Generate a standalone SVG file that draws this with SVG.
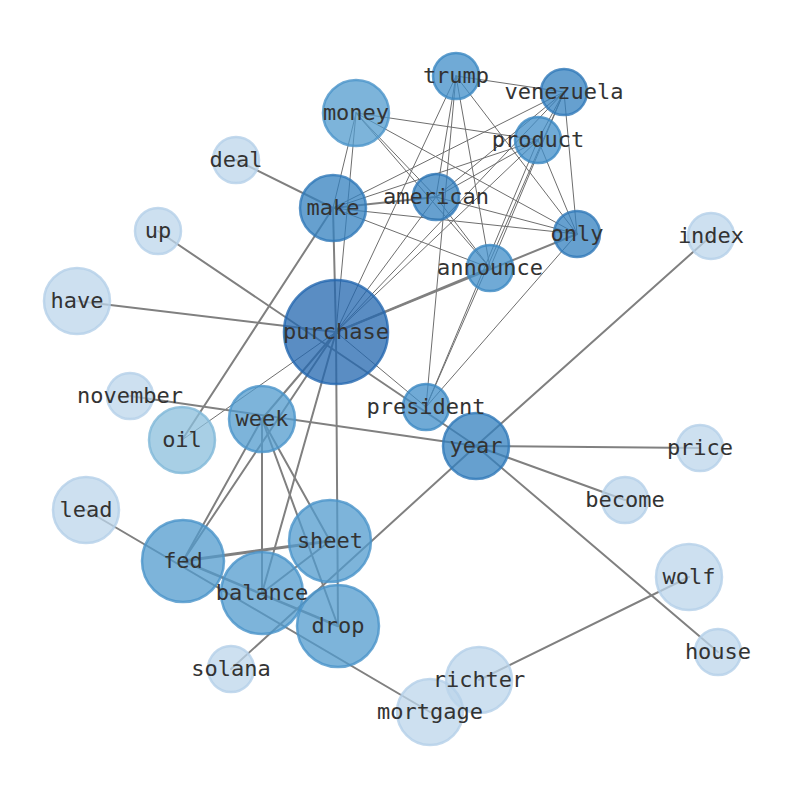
<svg xmlns="http://www.w3.org/2000/svg" width="794" height="790" viewBox="0 0 794 790">
<style>
.e{stroke:#808080;fill:none;stroke-linecap:round}
.t{stroke-width:1;stroke:#6e6e6e}
.k{stroke-width:2}
.n circle{fill-opacity:0.75;stroke-opacity:0.8;stroke-width:2.5}
.c1 circle{fill:#2367af;stroke:#2367af}
.c2 circle{fill:#3380bf;stroke:#2f78b8}
.c3 circle{fill:#408ec8;stroke:#3a87c2}
.c4 circle{fill:#529bce;stroke:#4a94c9}
.c5 circle{fill:#8bbfdc;stroke:#80b8d8}
.c6 circle{fill:#bcd5eb;stroke:#b4d0e8}
text{font-family:"DejaVu Sans Mono","Liberation Mono",monospace;font-size:22px;fill:#333;text-anchor:middle}
</style>
<rect width="794" height="790" fill="#fff"/>
<g id="edges">
<line class="e t" x1="456" y1="76" x2="564" y2="92"/>
<line class="e t" x1="456" y1="76" x2="336" y2="332"/>
<line class="e t" x1="456" y1="76" x2="436" y2="197"/>
<line class="e t" x1="456" y1="76" x2="426" y2="407"/>
<line class="e t" x1="456" y1="76" x2="490" y2="268"/>
<line class="e t" x1="456" y1="76" x2="577" y2="234"/>
<line class="e t" x1="564" y1="92" x2="538" y2="140"/>
<line class="e t" x1="564" y1="92" x2="577" y2="234"/>
<line class="e t" x1="564" y1="92" x2="333" y2="208"/>
<line class="e t" x1="564" y1="92" x2="336" y2="332"/>
<line class="e t" x1="564" y1="92" x2="436" y2="197"/>
<line class="e t" x1="564" y1="92" x2="426" y2="407"/>
<line class="e t" x1="564" y1="92" x2="490" y2="268"/>
<line class="e t" x1="538" y1="140" x2="356" y2="113"/>
<line class="e t" x1="538" y1="140" x2="333" y2="208"/>
<line class="e t" x1="538" y1="140" x2="336" y2="332"/>
<line class="e t" x1="538" y1="140" x2="436" y2="197"/>
<line class="e t" x1="538" y1="140" x2="577" y2="234"/>
<line class="e t" x1="538" y1="140" x2="426" y2="407"/>
<line class="e t" x1="356" y1="113" x2="333" y2="208"/>
<line class="e t" x1="356" y1="113" x2="336" y2="332"/>
<line class="e t" x1="356" y1="113" x2="577" y2="234"/>
<line class="e t" x1="356" y1="113" x2="436" y2="197"/>
<line class="e t" x1="356" y1="113" x2="490" y2="268"/>
<line class="e t" x1="333" y1="208" x2="577" y2="234"/>
<line class="e t" x1="333" y1="208" x2="490" y2="268"/>
<line class="e t" x1="436" y1="197" x2="577" y2="234"/>
<line class="e t" x1="436" y1="197" x2="490" y2="268"/>
<line class="e t" x1="436" y1="197" x2="336" y2="332"/>
<line class="e t" x1="577" y1="234" x2="426" y2="407"/>
<line class="e t" x1="336" y1="332" x2="426" y2="407"/>
<line class="e t" x1="336" y1="332" x2="182" y2="440"/>
<line class="e k" x1="236" y1="160" x2="333" y2="208"/>
<line class="e k" x1="333" y1="208" x2="436" y2="197"/>
<line class="e k" x1="333" y1="208" x2="182" y2="440"/>
<line class="e k" x1="333" y1="208" x2="336" y2="332"/>
<line class="e k" x1="158" y1="231" x2="476" y2="446"/>
<line class="e k" x1="77" y1="301" x2="336" y2="332"/>
<line class="e k" x1="336" y1="332" x2="490" y2="268"/>
<line class="e k" x1="336" y1="332" x2="577" y2="234"/>
<line class="e k" x1="336" y1="332" x2="262" y2="419"/>
<line class="e k" x1="336" y1="332" x2="183" y2="561"/>
<line class="e k" x1="336" y1="332" x2="262" y2="593"/>
<line class="e k" x1="336" y1="332" x2="338" y2="626"/>
<line class="e k" x1="130" y1="396" x2="476" y2="446"/>
<line class="e k" x1="262" y1="419" x2="183" y2="561"/>
<line class="e k" x1="262" y1="419" x2="262" y2="593"/>
<line class="e k" x1="262" y1="419" x2="330" y2="541"/>
<line class="e k" x1="262" y1="419" x2="338" y2="626"/>
<line class="e" stroke-width="3" x1="183" y1="561" x2="330" y2="541"/>
<line class="e" stroke-width="2.5" x1="183" y1="561" x2="338" y2="626"/>
<line class="e k" x1="262" y1="593" x2="330" y2="541"/>
<line class="e k" x1="86" y1="510" x2="430" y2="712"/>
<line class="e k" x1="231" y1="669" x2="476" y2="446"/>
<line class="e k" x1="476" y1="446" x2="711" y2="236"/>
<line class="e k" x1="476" y1="446" x2="700" y2="448"/>
<line class="e k" x1="476" y1="446" x2="625" y2="500"/>
<line class="e k" x1="476" y1="446" x2="718" y2="652"/>
<line class="e k" x1="479" y1="680" x2="689" y2="577"/>
</g>
<g id="nodes">
<g id="node-trump" class="n c3"><circle cx="456" cy="76" r="23"/></g>
<g id="node-venezuela" class="n c2"><circle cx="564" cy="92" r="23"/></g>
<g id="node-money" class="n c4"><circle cx="356" cy="113" r="33"/></g>
<g id="node-product" class="n c3"><circle cx="538" cy="140" r="23"/></g>
<g id="node-deal" class="n c6"><circle cx="236" cy="160" r="23"/></g>
<g id="node-make" class="n c2"><circle cx="333" cy="208" r="33"/></g>
<g id="node-american" class="n c2"><circle cx="436" cy="197" r="23"/></g>
<g id="node-up" class="n c6"><circle cx="158" cy="231" r="23"/></g>
<g id="node-only" class="n c2"><circle cx="577" cy="234" r="23"/></g>
<g id="node-index" class="n c6"><circle cx="711" cy="236" r="23"/></g>
<g id="node-announce" class="n c3"><circle cx="490" cy="268" r="23"/></g>
<g id="node-have" class="n c6"><circle cx="77" cy="301" r="33"/></g>
<g id="node-purchase" class="n c1"><circle cx="336" cy="332" r="52"/></g>
<g id="node-november" class="n c6"><circle cx="130" cy="396" r="23"/></g>
<g id="node-president" class="n c3"><circle cx="426" cy="407" r="23"/></g>
<g id="node-week" class="n c4"><circle cx="262" cy="419" r="33"/></g>
<g id="node-oil" class="n c5"><circle cx="182" cy="440" r="33"/></g>
<g id="node-year" class="n c2"><circle cx="476" cy="446" r="33"/></g>
<g id="node-price" class="n c6"><circle cx="700" cy="448" r="23"/></g>
<g id="node-become" class="n c6"><circle cx="625" cy="500" r="23"/></g>
<g id="node-lead" class="n c6"><circle cx="86" cy="510" r="33"/></g>
<g id="node-sheet" class="n c4"><circle cx="330" cy="541" r="41"/></g>
<g id="node-fed" class="n c4"><circle cx="183" cy="561" r="41"/></g>
<g id="node-balance" class="n c4"><circle cx="262" cy="593" r="41"/></g>
<g id="node-drop" class="n c4"><circle cx="338" cy="626" r="41"/></g>
<g id="node-wolf" class="n c6"><circle cx="689" cy="577" r="33"/></g>
<g id="node-house" class="n c6"><circle cx="718" cy="652" r="23"/></g>
<g id="node-solana" class="n c6"><circle cx="231" cy="669" r="23"/></g>
<g id="node-richter" class="n c6"><circle cx="479" cy="680" r="33"/></g>
<g id="node-mortgage" class="n c6"><circle cx="430" cy="712" r="33"/></g>
</g>
<g id="labels">
<text x="456" y="83">trump</text>
<text x="564" y="99">venezuela</text>
<text x="356" y="120">money</text>
<text x="538" y="147">product</text>
<text x="236" y="167">deal</text>
<text x="333" y="215">make</text>
<text x="436" y="204">american</text>
<text x="158" y="238">up</text>
<text x="577" y="241">only</text>
<text x="711" y="243">index</text>
<text x="490" y="275">announce</text>
<text x="77" y="308">have</text>
<text x="336" y="339">purchase</text>
<text x="130" y="403">november</text>
<text x="426" y="414">president</text>
<text x="262" y="426">week</text>
<text x="182" y="447">oil</text>
<text x="476" y="453">year</text>
<text x="700" y="455">price</text>
<text x="625" y="507">become</text>
<text x="86" y="517">lead</text>
<text x="330" y="548">sheet</text>
<text x="183" y="568">fed</text>
<text x="262" y="600">balance</text>
<text x="338" y="633">drop</text>
<text x="689" y="584">wolf</text>
<text x="718" y="659">house</text>
<text x="231" y="676">solana</text>
<text x="479" y="687">richter</text>
<text x="430" y="719">mortgage</text>
</g>
</svg>
